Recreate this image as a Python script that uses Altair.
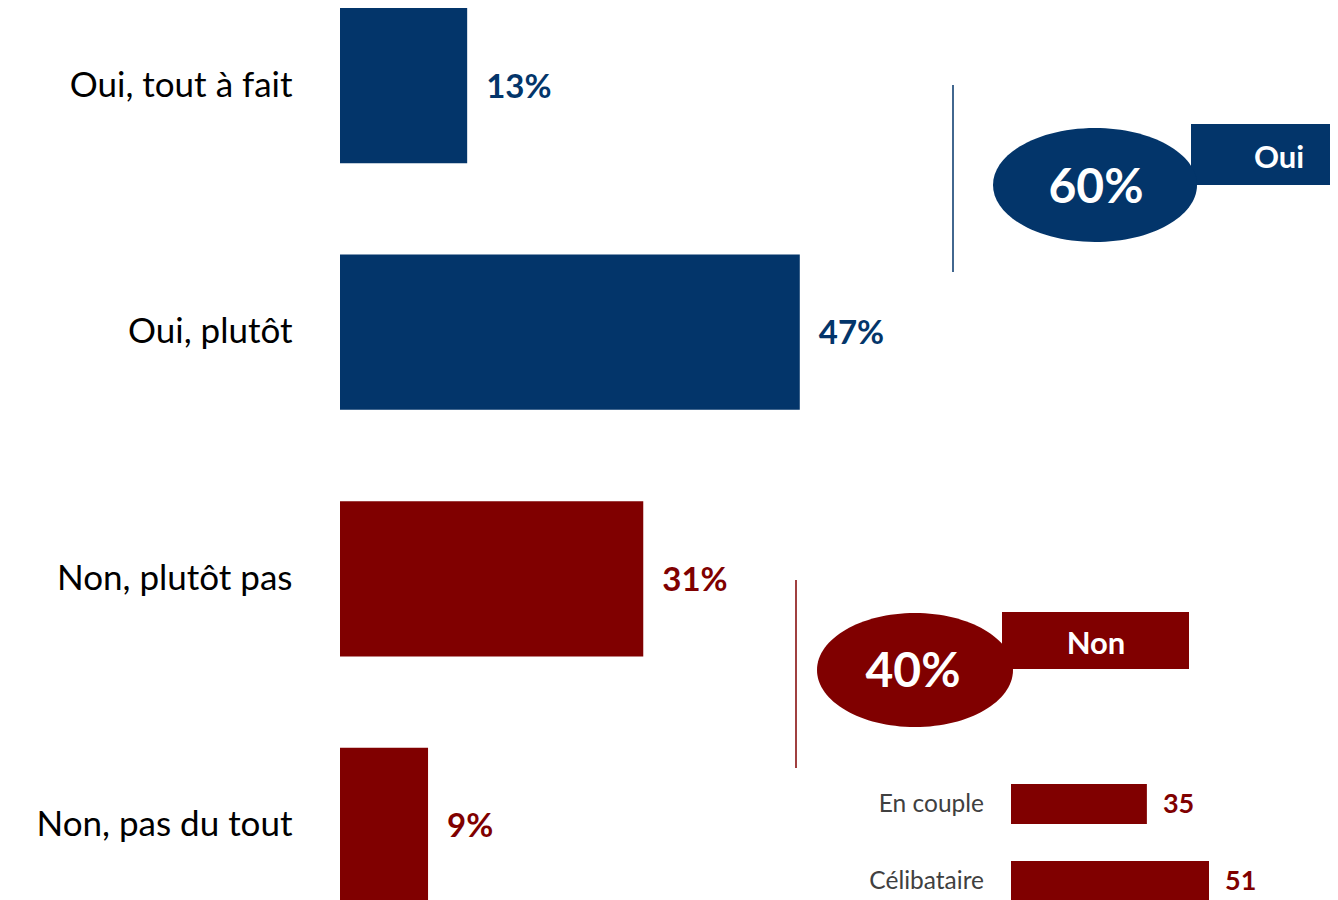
import altair as alt
import pandas as pd

# ---- data ----
categories = ["Oui, tout à fait", "Oui, plutôt", "Non, plutôt pas", "Non, pas du tout"]
values = [13, 47, 31, 9]
groups = ["Oui", "Oui", "Non", "Non"]
sub_categories = ["En couple", "Célibataire"]
sub_values = [35, 51]

BLUE = "#03356A"
RED = "#800000"
FONT = "Lato"

main_df = pd.DataFrame({"cat": categories, "val": values, "grp": groups})
main_df["label"] = main_df["val"].astype(str) + "%"

tot_oui = int(main_df.loc[main_df.grp == "Oui", "val"].sum())
tot_non = int(main_df.loc[main_df.grp == "Non", "val"].sum())

color_scale = alt.Scale(domain=["Oui", "Non"], range=[BLUE, RED])

x_main = alt.X("val:Q", scale=alt.Scale(domain=[0, 101.2], nice=False, zero=True), axis=None)
y_main = alt.Y(
    "cat:N", sort=categories,
    scale=alt.Scale(paddingInner=0.371, paddingOuter=0),
    axis=alt.Axis(title=None, ticks=False, domain=False, labelPadding=48,
                  labelFontSize=35, labelFont=FONT, labelColor="#000000",
                  labelLimit=500),
)
col = alt.Color("grp:N", scale=color_scale, legend=None)

bars = alt.Chart(main_df).mark_bar().encode(x=x_main, y=y_main, color=col)
vals = alt.Chart(main_df).mark_text(
    align="left", baseline="middle", dx=19, dy=2, fontWeight="bold", fontSize=33, font=FONT
).encode(x=x_main, y=y_main, text="label:N", color=col)
main = alt.layer(bars, vals)

# ---- small sub chart ----
sub_df = pd.DataFrame({"cat": sub_categories, "val": sub_values})
sub_xscale = alt.Scale(domain=[0, 51], range=[671, 869], nice=False, zero=True)
x_sub = alt.X("val:Q", scale=sub_xscale, axis=None)
y_sub = alt.Y("cat:N", sort=sub_categories,
              scale=alt.Scale(range=[776, 893], paddingInner=0.48, paddingOuter=0),
              axis=None)
sub_bars = alt.Chart(sub_df).mark_bar(color=RED).encode(x=x_sub, y=y_sub)
sub_vals = alt.Chart(sub_df).mark_text(
    align="left", baseline="middle", dx=16, dy=1, fontWeight="bold", fontSize=27, font=FONT, color=RED
).encode(x=x_sub, y=y_sub, text="val:Q")
sub_labels = alt.Chart(sub_df).mark_text(
    align="right", baseline="middle", dx=-27, dy=1, fontSize=24.5, font=FONT, color="#404040"
).encode(x=alt.X(datum=0, type="quantitative", scale=sub_xscale, axis=None), y=y_sub, text="cat:N")
sub = alt.layer(sub_bars, sub_labels, sub_vals)


# ---- callouts ----
def ellipse_path(ratio):
    return f"M-1,0 A1,{ratio} 0 1,1 1,0 A1,{ratio} 0 1,1 -1,0 Z"


def callout(color, word, total, line_x, line_y1, line_y2, ell_cx, ell_cy, ell_w, ell_h,
            rx1, rx2, ry1, ry2, word_x, word_y, pct_x, pct_y):
    d = pd.DataFrame({"word": [word], "pct": [f"{total}%"]})
    base = alt.Chart(d)
    rule = base.mark_rule(color=color, strokeWidth=1.5).encode(
        x=alt.value(line_x), y=alt.value(line_y1), y2=alt.value(line_y2))
    ell = base.mark_point(shape=ellipse_path(round(ell_h / ell_w, 3)), size=ell_w ** 2,
                          filled=True, fill=color, opacity=1, strokeWidth=0).encode(
        x=alt.value(ell_cx), y=alt.value(ell_cy))
    rect = base.mark_rect(color=color).encode(
        x=alt.value(rx1), x2=alt.value(rx2), y=alt.value(ry1), y2=alt.value(ry2))
    wtxt = base.mark_text(color="white", fontWeight="bold", fontSize=31, font=FONT,
                          align="center", baseline="middle").encode(
        x=alt.value(word_x), y=alt.value(word_y), text="word:N")
    ptxt = base.mark_text(color="white", fontWeight="bold", fontSize=48, font=FONT,
                          align="center", baseline="middle").encode(
        x=alt.value(pct_x), y=alt.value(pct_y), text="pct:N")
    return [rule, rect, ell, wtxt, ptxt]


ann_oui = callout(BLUE, "Oui", tot_oui, 613, 77, 264, 755, 177, 204, 114,
                  851, 1000, 116, 177, 939, 151, 756, 181)
ann_non = callout(RED, "Non", tot_non, 456, 572, 760, 575, 662, 196, 114,
                  662, 849, 604, 661, 756, 637, 573, 665)

chart = alt.layer(main, sub, *ann_oui, *ann_non).resolve_scale(
    x="independent", y="independent", color="independent"
).properties(
    width=990, height=895,
    autosize=alt.AutoSizeParams(type="none"),
    padding={"left": 332, "top": 0, "right": 0, "bottom": 0},
).configure(font=FONT).configure_view(stroke=None)

chart.save("out.html", embed_options={"renderer": "svg", "actions": False})
